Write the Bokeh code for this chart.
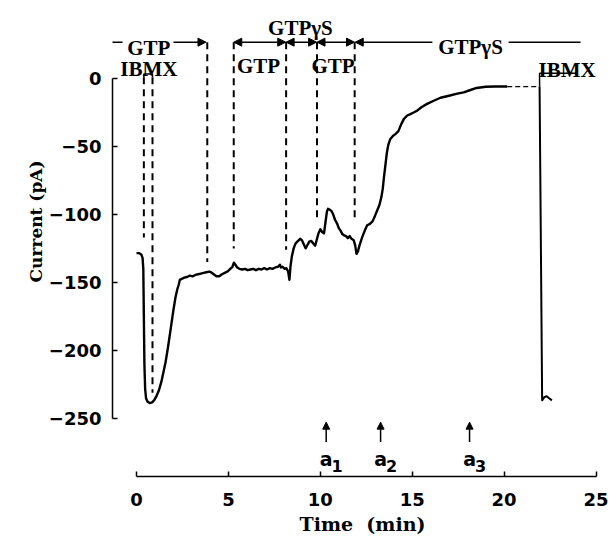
from bokeh.plotting import figure
from bokeh.models import Range1d, Arrow, NormalHead, Title, FixedTicker
from bokeh.core.properties import value
from bokeh.embed import file_html
from bokeh.resources import INLINE

# ---- data ----
time_min = [0.00, 0.15, 0.26, 0.33, 0.37, 0.40, 0.43, 0.47, 0.52, 0.60, 0.72, 0.85, 0.98, 1.10,
            1.21, 1.35, 1.48, 1.58, 1.72, 1.85, 2.00, 2.12, 2.22, 2.30, 2.36, 2.45, 2.60, 2.75,
            2.90, 3.05, 3.20, 3.35, 3.50, 3.65, 3.80, 3.95, 4.05, 4.20, 4.35, 4.50, 4.65, 4.80,
            4.95, 5.10, 5.22, 5.30, 5.38, 5.48, 5.60, 5.75, 5.90, 6.05, 6.20, 6.35, 6.50, 6.65,
            6.80, 6.95, 7.10, 7.25, 7.40, 7.55, 7.70, 7.80, 7.86, 7.95, 8.05, 8.15, 8.25, 8.32,
            8.38, 8.45, 8.55, 8.65, 8.75, 8.90, 9.00, 9.10, 9.20, 9.30, 9.40, 9.50, 9.62, 9.72,
            9.80, 9.90, 10.00, 10.10, 10.20, 10.28, 10.36, 10.42, 10.50, 10.60, 10.70, 10.80,
            10.92, 11.00, 11.10, 11.20, 11.30, 11.40, 11.50, 11.60, 11.70, 11.82, 11.90, 11.97,
            12.05, 12.15, 12.30, 12.45, 12.55, 12.70, 12.85, 12.98, 13.10, 13.22, 13.33, 13.40,
            13.47, 13.55, 13.62, 13.70, 13.80, 13.95, 14.10, 14.25, 14.40, 14.55, 14.73, 14.90,
            15.05, 15.26, 15.50, 15.81, 16.20, 16.54, 17.00, 17.45, 17.80, 18.17, 18.50, 19.00,
            19.50, 20.17]
current_pa = [-128.5, -128.5, -129.5, -132, -140, -175, -210, -228, -235, -237.5, -238.5, -238,
              -236, -233, -229.5, -223, -215, -208.5, -197, -185, -171, -161, -155, -151.5, -148,
              -147.5, -146.5, -146, -145, -145.5, -144.5, -144, -143.5, -143, -142.5, -142,
              -142.5, -144, -145.5, -145.5, -144, -143, -142, -140, -138.5, -135.5, -137, -139,
              -140, -140.5, -140, -141, -140.5, -140, -141, -140, -140.5, -139.5, -140.5, -139.5,
              -140, -139, -138.5, -137, -139, -138.5, -140, -139.5, -142, -148, -138, -131, -125,
              -121.5, -120, -118, -119, -122, -125, -122.5, -120, -119.5, -121.5, -123, -119,
              -114, -111, -113, -114, -106, -98, -96, -96.5, -97.5, -100, -104, -107, -110, -112,
              -114.5, -115.5, -116, -117.5, -116, -118, -119, -123, -129, -127, -122, -116, -111,
              -108, -107, -105, -101, -97, -93, -87, -81, -72, -63, -55, -49, -45, -42.5, -41,
              -39, -34, -30, -27.5, -26.5, -25.5, -24, -21.5, -19, -16.5, -14.5, -13, -11.5,
              -10.5, -8.8, -7.3, -6.4, -6.2, -6.2]

plateau_t = [20.17, 21.93]          # dashed (unrecorded) stretch
plateau_i = [-6.3, -6.3]
end_t = [21.93, 22.07, 22.20, 22.32, 22.45, 22.60]   # final IBMX response
end_i = [-6.3, -236.5, -234.0, -233.5, -235.0, -236.5]

# solution-change markers (dashed verticals): time, top, bottom
change_t = [0.40, 0.87, 3.85, 5.29, 8.14, 9.82, 11.87]
change_top = [0.5, 0.5, 26.3, 26.3, 26.3, 26.3, 26.3]
change_bot = [-117, -231, -135, -125, -126, -104.5, -104.5]

# IBMX application brackets
ibmx1_t = [0.40, 0.40, 0.87, 0.87]
ibmx1_i = [0.5, 3.0, 3.0, 0.5]
ibmx2_t = [21.93, 21.93, 23.98]
ibmx2_i = [-6.3, 3.5, 3.5]

# arrows of the solution bar (level 26.3 pA)
bar_level = 26.3
span_start = [2.01, 5.29, 8.14, 9.82, 11.90]
span_end = [3.78, 8.12, 9.80, 11.86, 16.10]
span_head_start = [False, True, True, True, True]
span_head_end = [True, True, True, True, False]
plain_start = [-1.87, 20.24]
plain_end = [-0.76, 24.16]

# texts of the solution bar
bar_text = ["GTP", "IBMX", "GTP", "GTPγS", "GTP", "GTPγS", "IBMX"]
bar_text_t = [0.67, 0.67, 6.64, 8.92, 10.69, 18.17, 23.43]
bar_text_i = [22.2, 6.8, 9.0, 36.5, 9.0, 22.4, 5.6]

# sample points a1..a3
sample_t = [10.32, 13.28, 18.12]
sample_sub = ["1", "2", "3"]

y_ticks = [-250, -200, -150, -100, -50, 0]
x_ticks = [0, 5, 10, 15, 20, 25]

# ---- figure ----
PXX = 18.38
PXY = 1.363
x_start = -1.306
x_end = x_start + 500 / PXX
y_end = 77.5 / PXY
y_start = y_end - 476 / PXY

p = figure(width=612, height=541, output_backend="svg", toolbar_location=None,
           x_range=Range1d(x_start, x_end), y_range=Range1d(y_start, y_end),
           min_border_left=112, min_border_right=0, min_border_top=0, min_border_bottom=65)
p.outline_line_color = None
p.grid.visible = False
p.background_fill_color = "white"

for ax in (p.xaxis[0], p.yaxis[0]):
    ax.axis_line_color = "black"
    ax.axis_line_width = 1.5
    ax.major_tick_line_color = "black"
    ax.major_tick_line_width = 1.5
    ax.major_tick_in = 5
    ax.major_tick_out = 0
    ax.minor_tick_line_color = None
    ax.major_label_text_font = "DejaVu Sans"
    ax.major_label_text_font_style = "bold"
    ax.major_label_text_font_size = "18px"
    ax.major_label_text_color = "black"

p.xaxis.ticker = FixedTicker(ticks=x_ticks)
p.xaxis.bounds = (x_ticks[0], x_ticks[-1])
p.xaxis.major_label_standoff = 16
p.xaxis.axis_label = "Time\u00a0\u00a0(min)"
p.xaxis.axis_label_standoff = 4
p.xaxis.axis_label_text_font = "DejaVu Serif"
p.xaxis.axis_label_text_font_style = "bold"
p.xaxis.axis_label_text_font_size = "19px"
p.xaxis.axis_label_text_color = "black"
p.yaxis.ticker = FixedTicker(ticks=y_ticks)
p.yaxis.bounds = (y_ticks[0], y_ticks[-1])
p.yaxis.major_label_standoff = 11
p.yaxis.major_label_overrides = {t: (str(t).replace("-", "\u2212")) for t in y_ticks}

# trace
p.line(time_min, current_pa, line_width=2.4, line_color="black", line_join="round")
p.line(plateau_t, plateau_i, line_width=1.3, line_color="black", line_dash="5 3")
p.line(end_t, end_i, line_width=2.0, line_color="black", line_join="round")

# dashed verticals
p.segment(x0=change_t, y0=change_top, x1=change_t, y1=change_bot,
          line_width=2, line_color="black", line_dash="7 5")

# brackets
p.line(ibmx1_t, ibmx1_i, line_width=1.5, line_color="black")
p.line(ibmx2_t, ibmx2_i, line_width=1.5, line_color="black")

# solution bar
for s, e, hs, he in zip(span_start, span_end, span_head_start, span_head_end):
    p.add_layout(Arrow(
        x_start=s, y_start=bar_level, x_end=e, y_end=bar_level,
        line_width=1.5, line_color="black",
        start=NormalHead(size=8, fill_color="black", line_color="black") if hs else None,
        end=NormalHead(size=8, fill_color="black", line_color="black") if he else None))
p.segment(x0=plain_start, y0=[bar_level] * len(plain_start), x1=plain_end,
          y1=[bar_level] * len(plain_end), line_width=1.5, line_color="black")

p.text(x=bar_text_t, y=bar_text_i, text=bar_text, text_align="center",
       text_baseline="alphabetic", text_font=value("Liberation Serif"),
       text_font_style="bold", text_font_size="21px", text_color="black")

# sample arrows a1..a3
for t in sample_t:
    p.add_layout(Arrow(x_start=t, y_start=-267, x_end=t, y_end=-252.5,
                       line_width=1.5, line_color="black",
                       end=NormalHead(size=7, fill_color="black", line_color="black")))
p.text(x=sample_t, y=[-279.2] * len(sample_t), text=["a"] * len(sample_t),
       text_align="center", text_baseline="alphabetic", text_font=value("DejaVu Sans"),
       text_font_style="bold", text_font_size="19px", text_color="black")
p.text(x=sample_t, y=[-284.3] * len(sample_t), text=sample_sub, x_offset=11,
       text_align="center", text_baseline="alphabetic", text_font=value("DejaVu Sans"),
       text_font_style="bold", text_font_size="16px", text_color="black")

# y axis title
p.add_layout(Title(text="Current (pA)", align="right", offset=160, standoff=0,
                   text_font="DejaVu Serif", text_font_style="bold",
                   text_font_size="17px", text_color="black"), "left")

open("out.html", "w").write(file_html(p, INLINE))
